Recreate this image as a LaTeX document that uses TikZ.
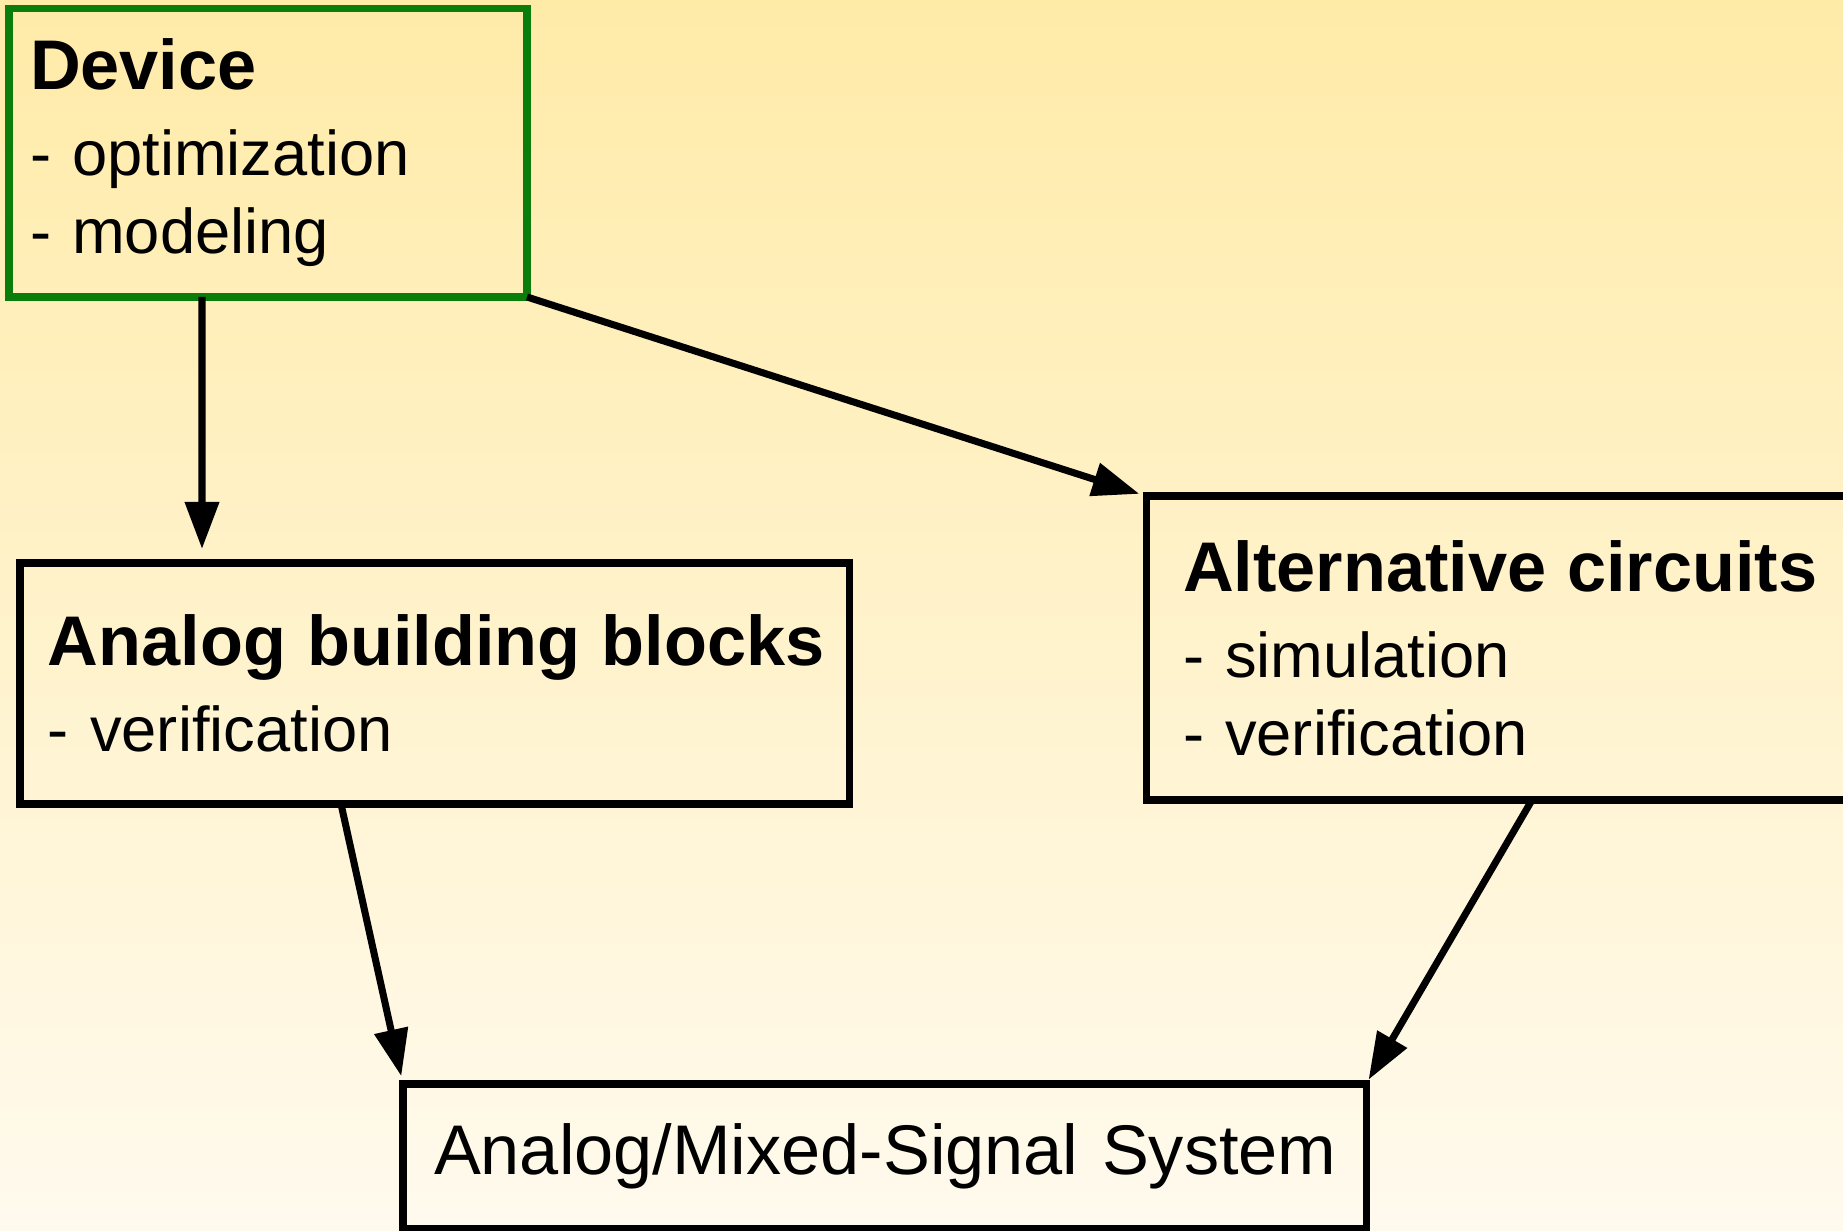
\documentclass[tikz,border=0pt]{standalone}
\usepackage{fontspec}
\setmainfont{Liberation Sans}
\usepackage{tikz}
\usepackage{xcolor}
\usetikzlibrary{arrows.meta,positioning}
\definecolor{bgtop}{HTML}{FFEBA8}
\definecolor{bgbottom}{HTML}{FFFAEE}
\definecolor{devgreen}{HTML}{0A7D0A}
\tikzset{
  box/.style={draw=black,line width=2pt,rectangle,align=left,
              anchor=north west,outer sep=0pt,
              font=\fontsize{18}{22.2}\selectfont},
  devbox/.style={box,draw=devgreen},
  flow/.style={-{Triangle[length=4.7mm,width=3.3mm]},line width=2pt,
               draw=black}
}
\newcommand{\boxhead}[1]{\mbox{\fontsize{20}{24}\selectfont\bfseries #1}}

\begin{document}
\begin{tikzpicture}[x=1cm,y=1cm]
    \useasboundingbox (0,0) rectangle (18.43,-12.31);
    \fill[top color=bgtop,bottom color=bgbottom] (0,0) rectangle (18.43,-12.31);

    % the four blocks
    \node[devbox,text width=4.76cm,inner xsep=0.21cm,minimum height=2.88cm]
      (dev) at (0.09,-0.09)
      {\boxhead{Device}\\[2.3pt]
       - optimization\\
       - modeling};
    \node[box,text width=7.73cm,inner xsep=0.28cm,minimum height=2.41cm]
      (abb) at (0.20,-5.63)
      {\boxhead{Analog building blocks}\\[2.3pt]
       - verification};
    \node[box,text width=6.46cm,inner xsep=0.37cm,minimum height=3.04cm]
      (alt) at (11.46,-4.96)
      {\boxhead{Alternative circuits}\\[2.3pt]
       - simulation\\
       - verification};
    \node[box,text width=9.01cm,inner xsep=0.31cm,minimum height=1.45cm,
          font=\fontsize{20}{24}\selectfont]
      (sys) at (4.03,-10.84)
      {\mbox{Analog/Mixed-Signal System}};

    % arrows between the blocks
    \draw[flow,shorten >=0.14cm] ([xshift=1.93cm]dev.south west)
      -- ([xshift=1.82cm]abb.north west);
    \draw[flow,shorten >=0.07cm] (dev.south east) -- (alt.north west);
    \draw[flow,shorten >=0.08cm] ([xshift=3.21cm]abb.south west)
      -- (sys.north west);
    \draw[flow,shorten >=0.05cm] ([xshift=3.86cm]alt.south west)
      -- (sys.north east);
\end{tikzpicture}
\end{document}
